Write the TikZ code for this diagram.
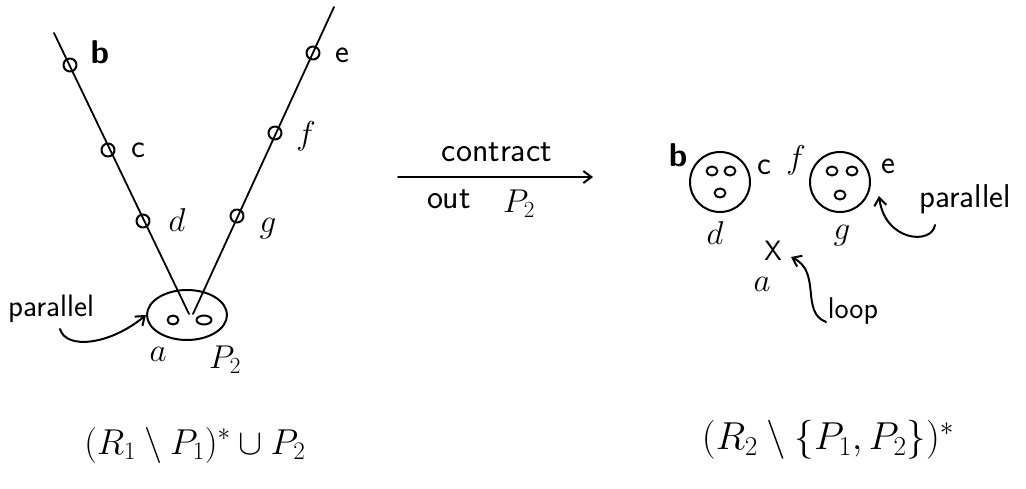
\RequirePackage{fix-cm}
\documentclass[tikz,border=0pt]{standalone}
\usepackage{fontspec}
\usetikzlibrary{arrows.meta,shapes.geometric}
\newcommand{\fsz}[1]{\fontsize{#1}{#1}\selectfont}
\begin{document}
\begin{tikzpicture}[x=1pt,y=-1pt,line width=1.8pt,line cap=round,line join=round,
  vtx/.style={draw,circle,inner sep=0pt,minimum size=13pt,line width=2pt},
  dot/.style={draw,ellipse,inner sep=0pt,minimum width=11pt,minimum height=9pt,line width=2pt},
  lbl/.style={font=\fsz{33}\sffamily,inner sep=0pt},
  word/.style={font=\fsz{26}\sffamily,inner sep=0pt},
  frm/.style={font=\fsz{36},inner sep=0pt},
  arr/.style={-{Straight Barb[length=8pt,width=12pt]},line width=2pt}]
\useasboundingbox (0,0) rectangle (1026,489);
% ---- left graph ----
\coordinate (lt) at (54,33);
\coordinate (lb) at (189,314);
\coordinate (rt) at (334,7);
\coordinate (rb) at (193,314);
\draw (lt) -- (lb);
\draw (rt) -- (rb);
\node[vtx] (b) at (70,65) {};
\node[vtx] (c) at (108,150) {};
\node[vtx] (d) at (143,221) {};
\node[vtx] (e) at (313,53) {};
\node[vtx] (f) at (275,133) {};
\node[vtx] (g) at (237,216) {};
\node[lbl] at (100,52) {\bfseries b};
\node[lbl] at (138,150) {c};
\node[lbl] at (177,220) {$d$};
\node[lbl] at (342,55) {e};
\node[lbl] at (306,136) {$f$};
\node[lbl] at (268,229) {$g$};
\node[draw,ellipse,minimum width=80pt,minimum height=50pt,line width=2pt] (A) at (187,315) {};
\node[dot] (a1) at (173,320) {};
\node[dot,minimum width=15pt] (a2) at (204,320) {};
\node[lbl] (la) at (158,354) {$a$};
\node[lbl] (lp) at (225,360) {$P_2$};
\node[word,font=\fsz{31}\sffamily] (par1) at (51,309) {parallel};
\draw[arr] (60,329) .. controls (66,350) and (110,345) .. (A.west);
% ---- middle arrow ----
\coordinate (m1) at (398,177);
\coordinate (m2) at (593,177);
\draw[arr] (m1) -- (m2);
\node[word,font=\fsz{34}\sffamily] (ct) at (497,152) {contract};
\node[word,font=\fsz{34}\sffamily] (ot) at (449,199) {out};
\node[lbl] (op) at (519,204) {$P_2$};
% ---- right graph ----
\node[draw,circle,minimum size=60pt,line width=2pt] (C1) at (720,182) {};
\node[dot] (c11) at (712,171) {};
\node[dot] (c12) at (730,171) {};
\node[dot] (c13) at (720,193) {};
\node[lbl] at (678,155) {\bfseries b};
\node[lbl] at (764,167) {c};
\node[lbl] at (715,233) {$d$};
\node[draw,circle,minimum size=60pt,line width=2pt] (C2) at (840,182) {};
\node[dot] (c21) at (832,171) {};
\node[dot] (c22) at (852,171) {};
\node[dot] (c23) at (840,195) {};
\node[lbl] at (796,160) {$f$};
\node[lbl] at (888,166) {e};
\node[lbl] at (842,236) {$g$};
\node[word,font=\fsz{33}\sffamily] (par2) at (965,199) {parallel};
\draw[arr] (935,225) .. controls (932,245) and (885,242) .. (879,196);
\node[lbl,font=\fsz{28}\sffamily] (X) at (773,251) {X};
\node[lbl] (a2l) at (762,284) {$a$};
\node[word,font=\fsz{30}\sffamily] (loop) at (853,311) {loop};
\draw[arr] (826,322) .. controls (800,312) and (822,272) .. (791,257);
% ---- formulas ----
\node[frm] (F1) at (195,445) {$(R_1\setminus P_1)^{*}\cup P_2$};
\node[frm,font=\fsz{39}] (F2) at (828,440) {$(R_2\setminus\{P_1,P_2\})^{*}$};
\end{tikzpicture}
\end{document}
